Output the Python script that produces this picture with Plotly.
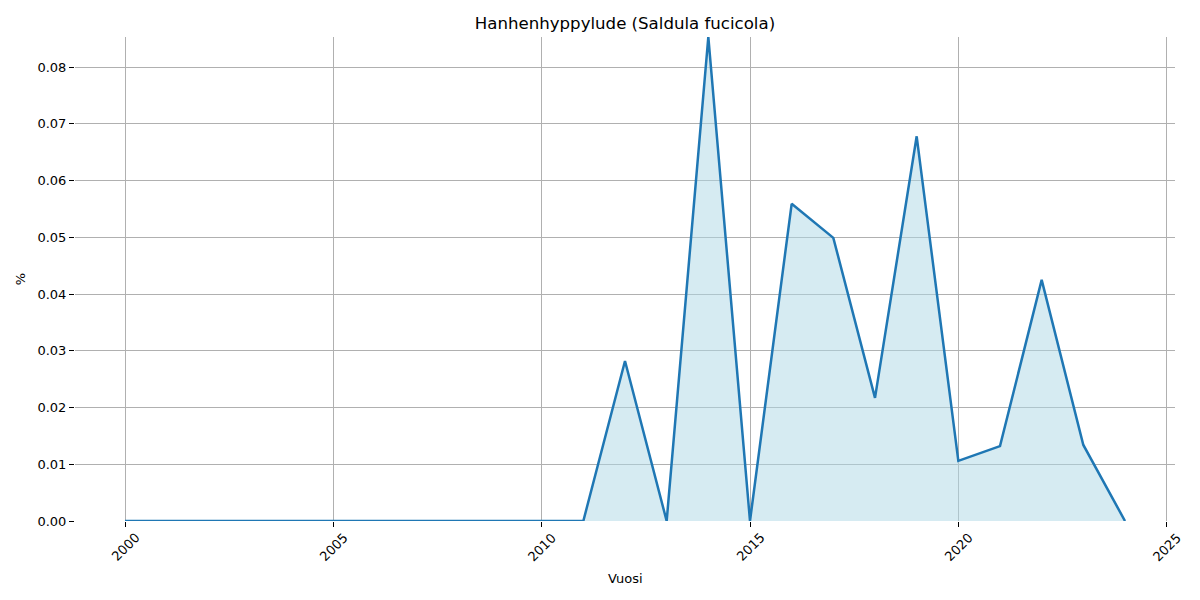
import plotly.graph_objects as go

years = list(range(2000, 2025))
values = [0, 0, 0, 0, 0, 0, 0, 0, 0, 0, 0, 0,
          0.0282, 0.0, 0.0853, 0.0, 0.0559, 0.0499, 0.0217, 0.0678,
          0.0106, 0.0132, 0.0425, 0.0134, 0.0]
x_ticks = [2000, 2005, 2010, 2015, 2020, 2025]
y_ticks = [0.0, 0.01, 0.02, 0.03, 0.04, 0.05, 0.06, 0.07, 0.08]
y_tick_labels = ["0.00", "0.01", "0.02", "0.03", "0.04", "0.05", "0.06", "0.07", "0.08"]

fig = go.Figure()
fig.add_trace(go.Scatter(
    x=years, y=values, mode="lines",
    line=dict(color="#1f77b4", width=2.5),
    fill="tozeroy", fillcolor="rgba(173,216,230,0.5)",
    showlegend=False,
))

font = "DejaVu Sans, sans-serif"
fig.update_layout(
    width=1200, height=600,
    paper_bgcolor="white", plot_bgcolor="white",
    margin=dict(l=67, r=33, t=29, b=87),
    title=dict(text="Hanhenhyppylude (Saldula fucicola)", x=(625 - 8) / 1200, xanchor="center",
               y=1 - 15 / 600, yanchor="middle",
               font=dict(family=font, size=16.6, color="black")),
    font=dict(family=font, size=13, color="black"),
)
for t in x_ticks:
    fig.add_annotation(x=t, y=0, xref="x", yref="paper", text=str(t), showarrow=False,
                       textangle=-45, xanchor="center", yanchor="middle", yshift=-26,
                       font=dict(family=font, size=13, color="black"))
fig.add_annotation(x=0.5, y=0, xref="paper", yref="paper", text="Vuosi", showarrow=False,
                   xanchor="center", yanchor="middle", yshift=-57,
                   font=dict(family=font, size=13, color="black"))
fig.update_xaxes(
    range=[1998.8, 2025.2], tickvals=x_ticks, ticktext=[""] * len(x_ticks),
    ticks="outside", ticklen=5, tickcolor="black",
    showgrid=True, gridcolor="#b0b0b0", gridwidth=1, zeroline=False, showline=False,
)
fig.update_yaxes(
    range=[0, 0.0853], tickvals=y_ticks, ticktext=y_tick_labels,
    ticks="outside", ticklen=5, tickcolor="black",
    showgrid=True, gridcolor="#b0b0b0", gridwidth=1, zeroline=False, showline=False,
    title=dict(text="%", font=dict(size=13), standoff=8),
    tickfont=dict(size=13),
)
fig.write_html("out.html")
